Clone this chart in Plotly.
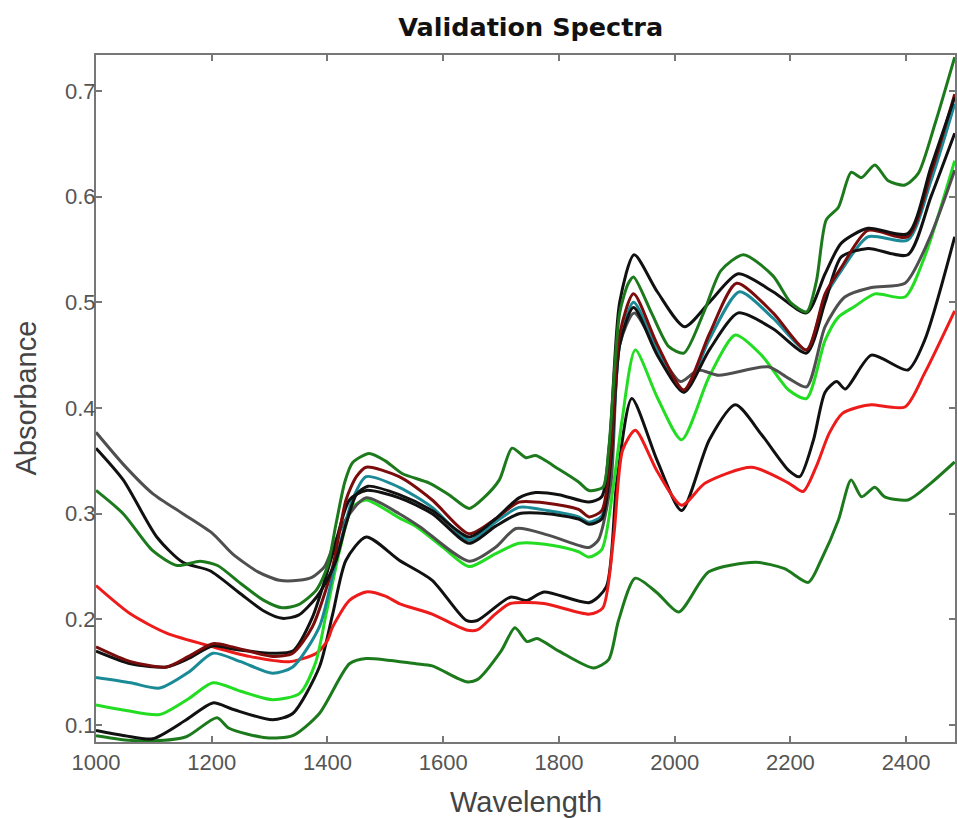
import plotly.graph_objects as go

# ---- data (wavelength, absorbance) ----
wl_C = [1000,1047,1098,1140,1180,1210,1250,1290,1322,1350,1381,1400,1415,1430,1443,1472,1500,1529,1576,1610,1645,1670,1697,1719,1743,1760,1800,1834,1852,1876,1886,1905,1920,1929,1960,1990,2016,2050,2080,2119,2170,2200,2228,2245,2262,2283,2305,2323,2346,2369,2398,2421,2450,2484]
ab_C = [0.322,0.300,0.265,0.251,0.255,0.251,0.234,0.218,0.211,0.214,0.228,0.250,0.291,0.330,0.348,0.357,0.350,0.338,0.329,0.318,0.305,0.315,0.332,0.362,0.353,0.355,0.342,0.330,0.322,0.325,0.360,0.490,0.518,0.524,0.490,0.458,0.452,0.490,0.530,0.545,0.525,0.500,0.491,0.520,0.578,0.590,0.623,0.618,0.630,0.615,0.611,0.622,0.669,0.732]

wl_B = [1000,1047,1105,1150,1197,1248,1290,1322,1350,1381,1400,1415,1432,1450,1470,1524,1581,1645,1690,1731,1760,1800,1852,1874,1888,1905,1930,1970,2017,2060,2110,2170,2228,2260,2288,2334,2403,2443,2484]
ab_B = [0.362,0.332,0.278,0.254,0.246,0.225,0.208,0.201,0.204,0.221,0.238,0.256,0.290,0.318,0.326,0.318,0.303,0.278,0.295,0.315,0.320,0.318,0.311,0.316,0.370,0.500,0.545,0.510,0.477,0.500,0.527,0.510,0.490,0.527,0.556,0.570,0.565,0.628,0.694]

wl_A = [1000,1050,1098,1150,1202,1236,1280,1317,1350,1374,1395,1409,1432,1467,1524,1559,1645,1690,1726,1780,1834,1852,1868,1890,1905,1930,1970,2010,2041,2076,2162,2197,2228,2260,2294,2340,2398,2440,2484]
ab_A = [0.377,0.345,0.319,0.300,0.281,0.262,0.245,0.237,0.237,0.240,0.250,0.268,0.295,0.315,0.300,0.288,0.255,0.268,0.286,0.280,0.270,0.268,0.275,0.330,0.460,0.490,0.455,0.425,0.436,0.431,0.439,0.428,0.420,0.477,0.505,0.514,0.518,0.560,0.625]

wl_D = [1000,1060,1122,1202,1265,1334,1381,1400,1409,1438,1467,1500,1524,1581,1640,1659,1690,1716,1774,1853,1876,1895,1910,1932,1970,2012,2053,2133,2197,2222,2245,2267,2290,2318,2340,2398,2432,2484]
ab_D = [0.232,0.205,0.187,0.174,0.165,0.160,0.168,0.180,0.193,0.218,0.226,0.222,0.215,0.205,0.190,0.190,0.205,0.215,0.215,0.205,0.211,0.280,0.360,0.379,0.340,0.308,0.329,0.344,0.329,0.321,0.345,0.376,0.395,0.401,0.403,0.401,0.433,0.492]

wl_E = [1000,1060,1122,1160,1202,1236,1305,1340,1374,1409,1432,1450,1467,1524,1581,1645,1690,1731,1780,1834,1852,1874,1890,1905,1929,1970,2016,2060,2107,2170,2228,2260,2288,2334,2403,2443,2484]
ab_E = [0.174,0.160,0.155,0.165,0.177,0.174,0.165,0.168,0.193,0.250,0.313,0.335,0.344,0.335,0.313,0.281,0.295,0.311,0.310,0.304,0.297,0.303,0.360,0.470,0.508,0.460,0.417,0.470,0.518,0.490,0.455,0.508,0.533,0.568,0.562,0.622,0.697]

wl_F = [1000,1060,1122,1160,1202,1236,1305,1340,1374,1409,1438,1467,1524,1581,1645,1690,1731,1780,1834,1852,1874,1890,1905,1929,1970,2016,2060,2110,2170,2228,2260,2288,2334,2403,2443,2484]
ab_F = [0.170,0.158,0.155,0.163,0.175,0.172,0.168,0.170,0.202,0.262,0.313,0.322,0.315,0.300,0.272,0.288,0.300,0.300,0.295,0.290,0.295,0.350,0.460,0.495,0.450,0.415,0.455,0.490,0.475,0.452,0.500,0.543,0.551,0.545,0.600,0.660]

wl_G = [1000,1060,1110,1160,1202,1250,1305,1340,1386,1415,1443,1467,1524,1581,1645,1690,1731,1780,1834,1852,1874,1890,1905,1929,1970,2016,2060,2112,2170,2228,2260,2288,2334,2403,2443,2484]
ab_G = [0.145,0.140,0.135,0.150,0.168,0.160,0.149,0.155,0.193,0.256,0.313,0.335,0.325,0.306,0.275,0.292,0.306,0.303,0.297,0.292,0.298,0.350,0.460,0.500,0.455,0.415,0.465,0.510,0.485,0.455,0.505,0.530,0.562,0.559,0.615,0.688]

wl_H = [1000,1050,1110,1160,1202,1250,1305,1352,1380,1398,1421,1443,1467,1524,1553,1600,1645,1690,1731,1790,1834,1852,1874,1895,1909,1932,1970,2012,2060,2105,2150,2197,2228,2260,2283,2311,2346,2398,2432,2484]
ab_H = [0.119,0.114,0.110,0.125,0.140,0.132,0.124,0.130,0.160,0.206,0.265,0.306,0.313,0.296,0.288,0.268,0.250,0.262,0.272,0.270,0.264,0.259,0.266,0.330,0.388,0.455,0.410,0.370,0.430,0.469,0.450,0.417,0.409,0.464,0.486,0.496,0.508,0.505,0.543,0.634]

wl_I = [1000,1050,1098,1156,1202,1236,1305,1340,1386,1409,1432,1467,1524,1581,1640,1659,1716,1745,1774,1853,1882,1900,1926,1970,2012,2060,2105,2150,2197,2216,2240,2260,2280,2295,2340,2403,2432,2484]
ab_I = [0.095,0.090,0.087,0.105,0.121,0.115,0.105,0.111,0.155,0.205,0.256,0.278,0.256,0.237,0.199,0.199,0.221,0.218,0.226,0.216,0.231,0.330,0.409,0.350,0.303,0.370,0.403,0.375,0.341,0.335,0.370,0.415,0.425,0.418,0.450,0.436,0.464,0.562]

wl_J = [1000,1050,1098,1156,1209,1230,1294,1340,1386,1438,1467,1553,1581,1640,1659,1700,1724,1745,1762,1800,1860,1886,1903,1932,1970,2007,2059,2140,2190,2231,2253,2283,2305,2323,2346,2363,2403,2443,2484]
ab_J = [0.090,0.086,0.085,0.089,0.107,0.097,0.088,0.090,0.111,0.158,0.163,0.158,0.156,0.141,0.143,0.170,0.192,0.179,0.182,0.170,0.154,0.162,0.199,0.239,0.225,0.207,0.245,0.254,0.248,0.235,0.256,0.294,0.332,0.316,0.325,0.316,0.313,0.329,0.349]

x_ticks = [1000, 1200, 1400, 1600, 1800, 2000, 2200, 2400]
y_ticks = [0.1, 0.2, 0.3, 0.4, 0.5, 0.6, 0.7]

series = [
    (wl_J, ab_J, "#1c7a1c"),
    (wl_I, ab_I, "#111111"),
    (wl_D, ab_D, "#ee1b1b"),
    (wl_H, ab_H, "#22dd22"),
    (wl_A, ab_A, "#4f4f4f"),
    (wl_G, ab_G, "#1a8a96"),
    (wl_F, ab_F, "#111111"),
    (wl_E, ab_E, "#7a0c0c"),
    (wl_B, ab_B, "#111111"),
    (wl_C, ab_C, "#1c7a1c"),
]

fig = go.Figure()
for wl, ab, col in series:
    fig.add_trace(go.Scatter(x=wl, y=ab, mode="lines",
                             line=dict(color=col, width=3, shape="spline", smoothing=0.7),
                             showlegend=False, hoverinfo="skip"))

FONT = "Liberation Sans, Arial, sans-serif"
axis_col = "#777777"
tick_font = dict(family=FONT, size=22, color="#555555")
fig.update_layout(
    width=957, height=818,
    margin=dict(l=96, r=0, t=55, b=76),
    paper_bgcolor="white", plot_bgcolor="white",
    title=dict(text="<b>Validation Spectra</b>", x=0.506, xref="paper", y=1 - 27 / 818,
               yref="container", xanchor="center", yanchor="middle",
               font=dict(family="DejaVu Sans, sans-serif", size=25.5, color="#111111")),
    xaxis=dict(range=[1000, 2484.5], tickvals=x_ticks, ticktext=[str(t) for t in x_ticks],
               showgrid=False, zeroline=False, showline=True, linecolor=axis_col, linewidth=2,
               ticks="inside", ticklen=6, tickwidth=1.5, tickcolor=axis_col, mirror="ticks",
               tickfont=tick_font),
    yaxis=dict(range=[0.084, 0.734], tickvals=y_ticks, ticktext=[f"{t:.1f}" for t in y_ticks],
               showgrid=False, zeroline=False, showline=True, linecolor=axis_col, linewidth=2,
               ticks="inside", ticklen=6, tickwidth=1.5, tickcolor=axis_col, mirror="ticks",
               tickfont=tick_font, ticklabelstandoff=-6),
    annotations=[
        dict(text="Wavelength", xref="paper", yref="paper", x=0.5, y=0, yshift=-60,
             xanchor="center", yanchor="middle", showarrow=False,
             font=dict(family=FONT, size=29, color="#444444")),
        dict(text="Absorbance", xref="paper", yref="paper", x=0, y=0.5, xshift=-71,
             xanchor="center", yanchor="middle", textangle=-90, showarrow=False,
             font=dict(family=FONT, size=29, color="#444444")),
    ],
)

# remove the default page margin so the 957x818 figure fills the window exactly
fig.write_html("out.html", config={"displayModeBar": False},
               post_script="document.body.style.margin='0px';document.body.style.overflow='hidden';")
